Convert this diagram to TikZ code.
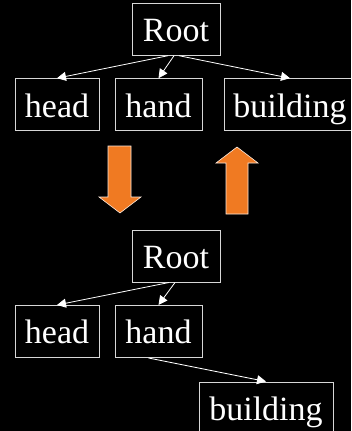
\documentclass[tikz,border=0pt]{standalone}
\usepackage{fontspec}
\setmainfont{Liberation Serif}
\usetikzlibrary{arrows.meta}
\definecolor{boxline}{RGB}{215,215,215}
\definecolor{arrorange}{RGB}{240,122,34}
\tikzset{
  wbox/.style={draw=boxline, line width=1pt, text=white, inner sep=0pt,
    minimum height=52pt, text height=25pt, text depth=0.4pt,
    font=\fontsize{34}{34}\selectfont},
  link/.style={draw=white, line width=0.8pt, -{Triangle[length=9pt,width=9pt]}},
  bigarrow/.style={fill=arrorange, draw=white!85!arrorange, line width=0.6pt}
}
\begin{document}
\begin{tikzpicture}[x=1pt,y=-1pt]
\path[fill=black] (0,0) rectangle (351,431);
\useasboundingbox (0,0) rectangle (351,431);
\begin{scope}
\clip (0,0) rectangle (351,431);
% top tree
\node[wbox, minimum width=88pt] (rt) at (176,29.2) {Root};
\node[wbox, minimum width=84pt] (ht) at (57,104.7) {head};
\node[wbox, minimum width=87pt] (hdt) at (158.5,104.7) {hand};
\node[wbox, minimum width=132pt] (bt) at (290,104.7) {building};
\draw[link] ([xshift=-8pt]rt.south) -- (ht.north);
\draw[link] ([xshift=-2pt]rt.south) -- (hdt.north);
\draw[link] ([xshift=3pt]rt.south) -- (bt.north);
% orange arrows
\draw[bigarrow] (108,146) -- (131,146) -- (131,197) -- (141,197) -- (120,213) -- (99,197) -- (108,197) -- cycle;
\draw[bigarrow] (226,214) -- (248,214) -- (248,163) -- (258,163) -- (237,147) -- (216,163) -- (226,163) -- cycle;
% bottom tree
\node[wbox, minimum width=88pt] (rb) at (176,256) {Root};
\node[wbox, minimum width=84pt] (hb) at (57,331.5) {head};
\node[wbox, minimum width=87pt] (hdb) at (158.5,331.5) {hand};
\node[wbox, minimum width=134pt] (bb) at (266,408) {building};
\draw[link] ([xshift=-7pt]rb.south) -- (hb.north);
\draw[link] ([xshift=-1pt]rb.south) -- (hdb.north);
\draw[link] ([xshift=-10pt]hdb.south) -- (bb.north);
\end{scope}
\end{tikzpicture}
\end{document}
